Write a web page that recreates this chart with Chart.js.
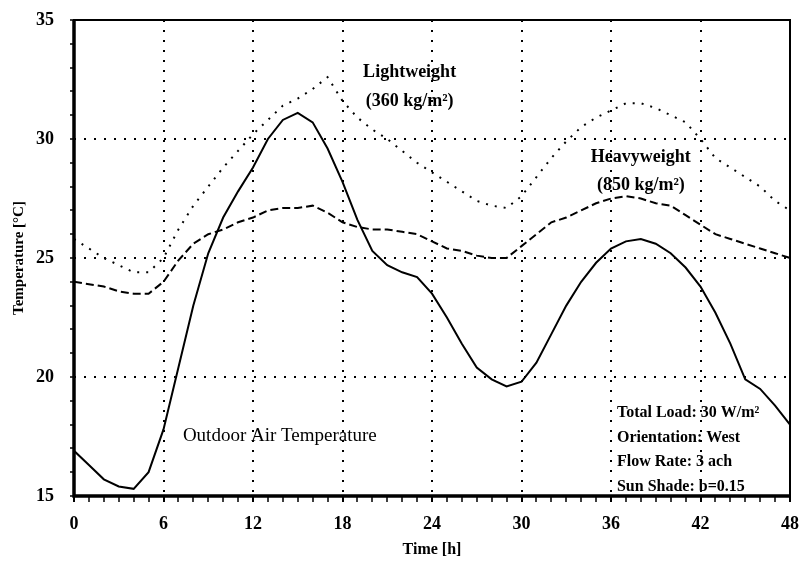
<!DOCTYPE html>
<html>
<head>
<meta charset="utf-8">
<script src="https://cdn.jsdelivr.net/npm/chart.js@4/dist/chart.umd.min.js"></script>
<style>
  body { margin: 0; background: #fff; }
  canvas { display: block; }
</style>
</head>
<body>
<canvas id="chart" width="804" height="561"></canvas>
<script>
// hours 0..48
const hours = Array.from({ length: 49 }, (_, i) => i);

const outdoorTemp = [16.9, 16.3, 15.7, 15.4, 15.3, 16.0, 17.8, 20.4, 23.0, 25.2,
  26.7, 27.8, 28.8, 30.0, 30.8, 31.1, 30.7, 29.6, 28.2, 26.6,
  25.3, 24.7, 24.4, 24.2, 23.5, 22.5, 21.4, 20.4, 19.9, 19.6,
  19.8, 20.6, 21.8, 23.0, 24.0, 24.8, 25.4, 25.7, 25.8, 25.6,
  25.2, 24.6, 23.8, 22.7, 21.4, 19.9, 19.5, 18.8, 18.0];

const heavyTemp = [24.0, 23.9, 23.8, 23.6, 23.5, 23.5, 24.0, 24.9, 25.6, 26.0,
  26.2, 26.5, 26.7, 27.0, 27.1, 27.1, 27.2, 26.9, 26.5, 26.3,
  26.2, 26.2, 26.1, 26.0, 25.7, 25.4, 25.3, 25.1, 25.0, 25.0,
  25.5, 26.0, 26.5, 26.7, 27.0, 27.3, 27.5, 27.6, 27.5, 27.3,
  27.2, 26.8, 26.4, 26.0, 25.8, 25.6, 25.4, 25.2, 25.0];

const lightTemp = [25.8, 25.4, 25.0, 24.7, 24.4, 24.4, 25.0, 26.2, 27.2, 28.0,
  28.8, 29.5, 30.2, 30.8, 31.4, 31.7, 32.1, 32.6, 31.6, 30.9,
  30.4, 30.0, 29.5, 29.0, 28.6, 28.2, 27.8, 27.4, 27.2, 27.1,
  27.6, 28.4, 29.2, 29.9, 30.5, 30.9, 31.2, 31.5, 31.5, 31.3,
  31.0, 30.7, 30.0, 29.2, 28.8, 28.4, 28.0, 27.4, 27.0];

const xLabels = [0, 6, 12, 18, 24, 30, 36, 42, 48];
const yLabels = [15, 20, 25, 30, 35];

const serif = '"Liberation Serif", "DejaVu Serif", serif';

function toPoints(values) {
    return values.map((v, i) => ({ x: hours[i], y: v }));
}

// frame around the plot area plus the text notes
const framePlugin = {
    id: 'frame',
    afterDraw(chart) {
        const { ctx, chartArea: a, scales } = chart;
        const x = scales.x, y = scales.y;
        ctx.save();
        ctx.strokeStyle = '#000';
        ctx.lineWidth = 2;
        ctx.strokeRect(a.left, a.top, a.right - a.left, a.bottom - a.top);
        ctx.lineWidth = 3.5;
        ctx.beginPath();
        ctx.moveTo(a.left, a.top);
        ctx.lineTo(a.left, a.bottom);
        ctx.lineTo(a.right, a.bottom);
        ctx.stroke();

        ctx.fillStyle = '#000';
        ctx.textBaseline = 'middle';

        // series notes
        ctx.textAlign = 'center';
        ctx.font = 'bold 18px ' + serif;
        ctx.fillText('Lightweight', x.getPixelForValue(22.5), y.getPixelForValue(32.8));
        ctx.fillText('(360 kg/m\u00B2)', x.getPixelForValue(22.5), y.getPixelForValue(31.6));
        ctx.fillText('Heavyweight', x.getPixelForValue(38.0), y.getPixelForValue(29.25));
        ctx.fillText('(850 kg/m\u00B2)', x.getPixelForValue(38.0), y.getPixelForValue(28.07));

        ctx.textAlign = 'left';
        ctx.font = '19px ' + serif;
        ctx.fillText('Outdoor Air Temperature', x.getPixelForValue(7.3), y.getPixelForValue(17.5));

        ctx.font = 'bold 16px ' + serif;
        const info = ['Total Load: 30 W/m\u00B2', 'Orientation: West', 'Flow Rate: 3 ach', 'Sun Shade: b=0.15'];
        const infoY = [18.5, 17.45, 16.43, 15.38];
        info.forEach((t, i) => ctx.fillText(t, x.getPixelForValue(36.4), y.getPixelForValue(infoY[i])));
        ctx.restore();
    }
};

new Chart(document.getElementById('chart'), {
    type: 'line',
    data: {
        datasets: [
            {
                label: 'Outdoor Air Temperature',
                data: toPoints(outdoorTemp),
                borderColor: '#000',
                borderWidth: 2,
                pointRadius: 0,
                tension: 0
            },
            {
                label: 'Heavyweight',
                data: toPoints(heavyTemp),
                borderColor: '#000',
                borderWidth: 2,
                borderDash: [8, 4],
                pointRadius: 0,
                tension: 0
            },
            {
                label: 'Lightweight',
                data: toPoints(lightTemp),
                borderColor: '#000',
                borderWidth: 2,
                borderDash: [2, 7],
                pointRadius: 0,
                tension: 0
            }
        ]
    },
    options: {
        responsive: false,
        animation: false,
        layout: { padding: { top: 20, right: 14, left: 0, bottom: 0 } },
        plugins: {
            legend: { display: false },
            tooltip: { enabled: false }
        },
        scales: {
            x: {
                type: 'linear',
                min: 0,
                max: 48,
                afterFit: s => { s.height = 65; s.paddingLeft = 0; s.paddingRight = 0; },
                afterBuildTicks: s => { s.ticks = hours.map(h => ({ value: h })); },
                ticks: {
                    autoSkip: false,
                    maxRotation: 0,
                    padding: 12,
                    color: '#000',
                    font: { family: serif, size: 18, weight: 'bold' },
                    callback: v => xLabels.includes(v) ? String(v) : ''
                },
                grid: {
                    color: c => (c.tick && c.tick.value % 6 === 0 && c.tick.value > 0 && c.tick.value < 48) ? '#000' : 'rgba(0,0,0,0)',
                    lineWidth: 2,
                    tickColor: '#000',
                    tickLength: 6,
                    tickWidth: c => (c.tick && c.tick.value % 6 === 0) ? 2 : 1.5,
                    tickBorderDash: []
                },
                border: { display: false, dash: [2, 8] },
                title: {
                    display: true,
                    text: 'Time [h]',
                    color: '#000',
                    padding: { top: 0, bottom: 2 },
                    font: { family: serif, size: 16, weight: 'bold' }
                }
            },
            y: {
                type: 'linear',
                min: 15,
                max: 35,
                afterFit: s => { s.width = 74; s.paddingTop = 0; s.paddingBottom = 0; },
                afterBuildTicks: s => {
                    const t = [];
                    for (let v = 15; v <= 35; v++) t.push({ value: v });
                    s.ticks = t;
                },
                ticks: {
                    autoSkip: false,
                    padding: 16,
                    color: '#000',
                    font: { family: serif, size: 18, weight: 'bold' },
                    callback: v => yLabels.includes(v) ? String(v) : ''
                },
                grid: {
                    color: c => (c.tick && c.tick.value % 5 === 0 && c.tick.value > 15 && c.tick.value < 35) ? '#000' : 'rgba(0,0,0,0)',
                    lineWidth: 2,
                    tickColor: '#000',
                    tickLength: 4,
                    tickWidth: 1.5,
                    tickBorderDash: []
                },
                border: { display: false, dash: [2, 8] },
                title: {
                    display: true,
                    text: 'Temperature [\u00B0C]',
                    color: '#000',
                    padding: { top: 10, bottom: 0 },
                    font: { family: serif, size: 15, weight: 'bold' }
                }
            }
        }
    },
    plugins: [framePlugin]
});
</script>
</body>
</html>
